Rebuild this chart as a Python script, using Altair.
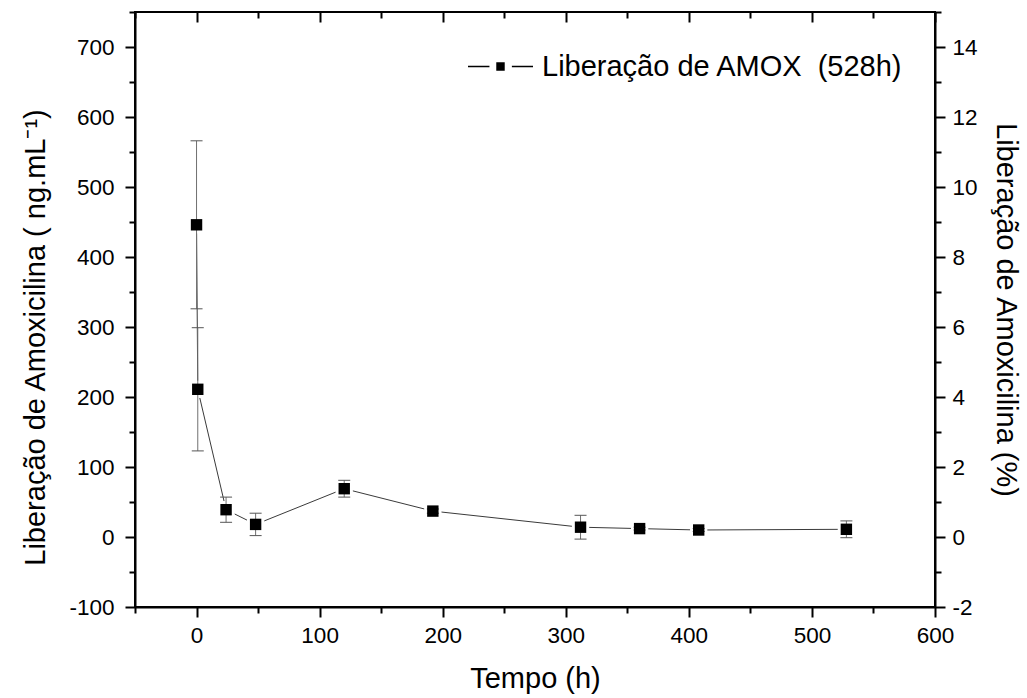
import altair as alt
import pandas as pd

# ---- data ----
tempo = [0, 1, 24, 48, 120, 192, 312, 360, 408, 528]
liberacao = [446, 211, 39, 18, 69, 37, 14, 12, 10, 11]
erro = [120, 88, 18, 16, 12, 3, 17, 2, 2, 12]
serie = "Liberação de AMOX\u00a0 (528h)"

# tick positions / labels
x_ticks = list(range(-50, 601, 50))
x_major = list(range(0, 601, 100))
x_minor = list(range(-50, 551, 100))
y_ticks = list(range(-100, 751, 50))
pct_ticks = list(range(-2, 16, 1))

X_DOM = [-50, 600]
Y_DOM = [-100, 750]
P_DOM = [-2, 15]

FONT = "Liberation Sans"

df = pd.DataFrame({"t": tempo, "v": liberacao, "e": erro})
df["serie"] = serie

base = alt.Chart(df).transform_calculate(
    lo="datum.v - datum.e", hi="datum.v + datum.e", pct="datum.v / 50"
)

xs = alt.Scale(domain=X_DOM, nice=False, zero=False)
ys = alt.Scale(domain=Y_DOM, nice=False, zero=False)
ps = alt.Scale(domain=P_DOM, nice=False, zero=False)


def tsize(mod):
    return {"condition": {"test": f"datum.value % {mod} !== 0", "value": 6}, "value": 10}


x_bottom = alt.Axis(
    values=x_ticks,
    labelExpr="datum.value % 100 === 0 ? '' + datum.value : ''",
    tickSize=tsize(100),
    labelPadding=7,
    labelFlush=False,
    labelOverlap=False,
    title="Tempo (h)",
    titlePadding=18,
)
x_top_major = alt.Axis(orient="top", values=x_major, labels=False, domain=False,
                       tickSize=10, offset=-10, title=None)
x_top_minor = alt.Axis(orient="top", values=x_minor, labels=False, domain=False,
                       tickSize=6, offset=-6, title=None)
y_left = alt.Axis(
    values=y_ticks,
    labelExpr="datum.value % 100 === 0 && datum.value <= 700 ? '' + datum.value : ''",
    tickSize=tsize(100),
    labelPadding=11,
    labelFlush=False,
    labelOverlap=False,
    title="Liberação de Amoxicilina ( ng.mL\u207b\u00b9)",
    titlePadding=18,
    titleY=325,
)
y_right = alt.Axis(
    orient="right",
    values=pct_ticks,
    labelExpr="datum.value % 2 === 0 && datum.value <= 14 ? '' + datum.value : ''",
    tickSize=tsize(2),
    labelPadding=7,
    labelFlush=False,
    labelOverlap=False,
    title="Liberação de Amoxicilina (%)",
    titlePadding=13,
)

X = lambda ax: alt.X("t:Q", scale=xs, axis=ax)

line = base.mark_line(color="#3a3a3a", strokeWidth=1).encode(
    x=X(x_bottom), y=alt.Y("v:Q", scale=ys, axis=y_left)
)
halo = base.mark_point(shape="square", filled=True, color="white", opacity=1, size=300).encode(
    x=X(x_top_major), y=alt.Y("v:Q", scale=ys, axis=None)
)
rules = base.mark_rule(color="#707070", strokeWidth=1).encode(
    x=X(x_top_minor), y=alt.Y("lo:Q", scale=ys, axis=None), y2="hi:Q"
)
cap_lo = base.mark_tick(orient="horizontal", size=12, thickness=1, color="#555555", opacity=1).encode(
    x=X(None), y=alt.Y("lo:Q", scale=ys, axis=None)
)
cap_hi = base.mark_tick(orient="horizontal", size=12, thickness=1, color="#555555", opacity=1).encode(
    x=X(None), y=alt.Y("hi:Q", scale=ys, axis=None)
)

LEG_PATH = ("M-1,-0.022H-0.34V0.022H-1Z "
            "M-0.13,-0.13H0.13V0.13H-0.13Z "
            "M0.35,-0.022H1V0.022H0.35Z")

pts = base.mark_point(shape="square", filled=True, size=130, opacity=1).encode(
    x=X(None),
    y=alt.Y("v:Q", scale=ys, axis=None),
    color=alt.Color(
        "serie:N",
        scale=alt.Scale(range=["black"]),
        legend=alt.Legend(
            title=None,
            orient="none",
            legendX=333,
            legendY=22,
            padding=0,
            symbolType=LEG_PATH,
            symbolSize=4225,
            symbolFillColor="black",
            symbolStrokeWidth=0,
            symbolOpacity=1,
            labelFont=FONT,
            labelFontSize=29,
            labelColor="black",
            labelOffset=9,
            labelLimit=600,
        ),
    ),
)
pct = base.mark_point(opacity=0).encode(
    x=X(None), y=alt.Y("pct:Q", scale=ps, axis=y_right)
)

chart = (
    alt.layer(line, halo, rules, cap_lo, cap_hi, pts, pct)
    .resolve_scale(y="independent")
    .resolve_axis(x="independent", y="independent")
    .properties(
        width=800,
        height=595,
        autosize=alt.AutoSizeParams(type="none"),
        padding={"left": 135, "top": 12, "right": 92, "bottom": 91},
        background="white",
    )
    .configure_view(stroke="black", strokeWidth=2)
    .configure_axis(
        grid=False,
        labelFont=FONT,
        labelFontSize=22.5,
        labelColor="black",
        titleFont=FONT,
        titleFontSize=29,
        titleFontWeight="normal",
        titleColor="black",
        domainColor="black",
        domainWidth=2,
        tickColor="black",
        tickWidth=2,
    )
)

chart.save("out.html", embed_options={"renderer": "svg", "actions": False})
